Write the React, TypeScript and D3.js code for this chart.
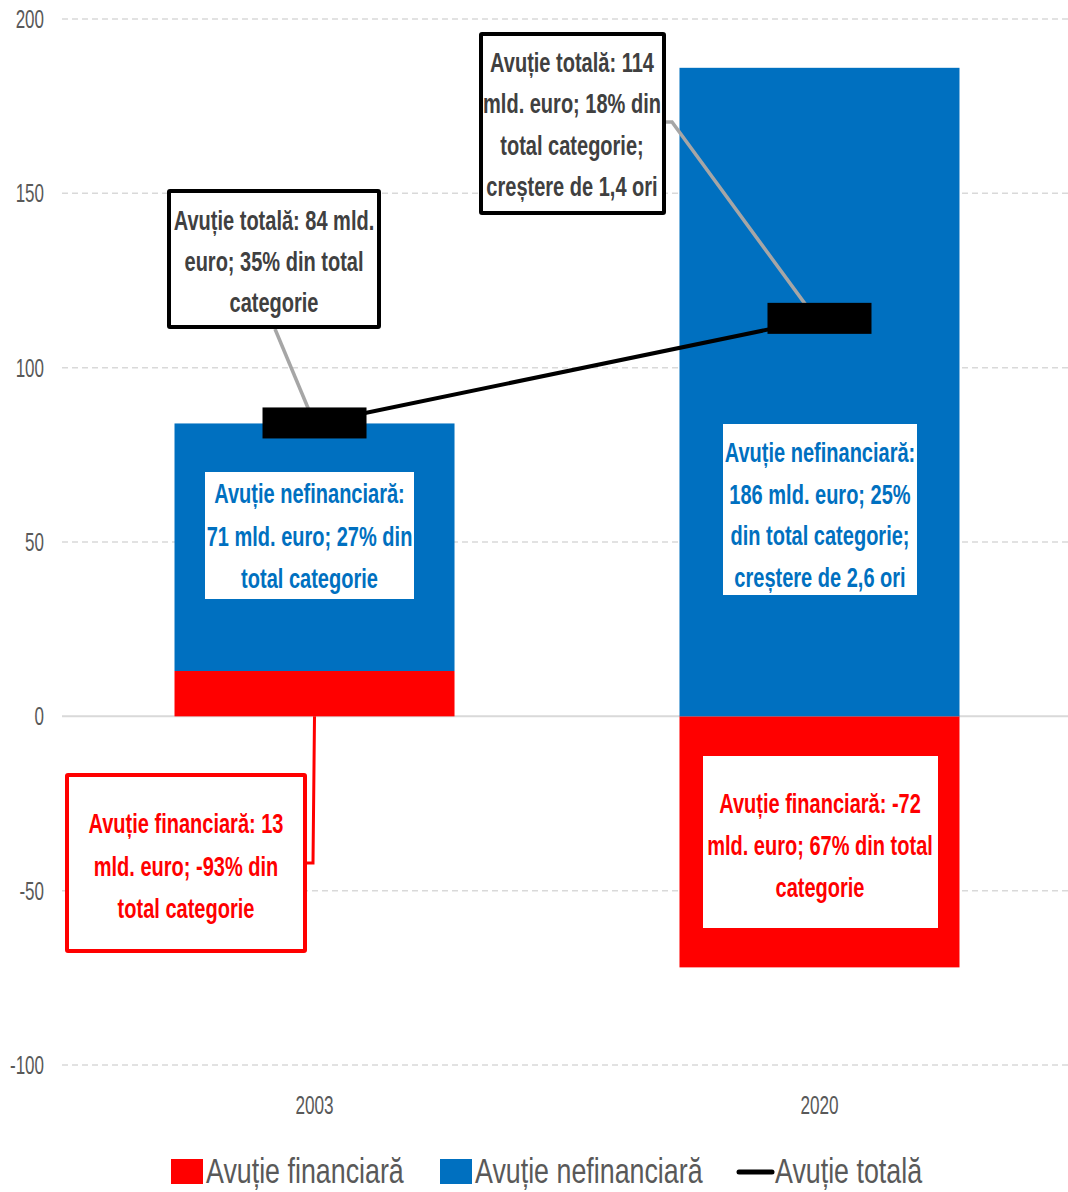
import React from "react";
import * as d3 from "d3";

const categories = ["2003", "2020"];
const financiara = [13, -72];
const nefinanciara = [71, 186];
const totala = [84, 114];
const yTicks = [-100, -50, 0, 50, 100, 150, 200];

const seriesNames = ["Avuție financiară", "Avuție nefinanciară", "Avuție totală"];
const totalLabels = [
  ["Avuție totală: 84 mld.", "euro; 35% din total", "categorie"],
  ["Avuție totală: 114", "mld. euro; 18% din", "total categorie;", "creștere de 1,4 ori"],
];
const nefinLabels = [
  ["Avuție nefinanciară:", "71 mld. euro; 27% din", "total categorie"],
  ["Avuție nefinanciară:", "186 mld. euro; 25%", "din total categorie;", "creștere de 2,6 ori"],
];
const finLabels = [
  ["Avuție financiară: 13", "mld. euro; -93% din", "total categorie"],
  ["Avuție financiară: -72", "mld. euro; 67% din total", "categorie"],
];

const W = 1068;
const H = 1192;
const RED = "#FF0000";
const BLUE = "#0070C0";
const FONT = "'Liberation Sans', Arial, sans-serif";

function T({ x, y, anchor = "middle", size, weight = "normal", fill, sx, children }: any) {
  return (
    <text
      transform={`translate(${x},${y}) scale(${sx},1)`}
      textAnchor={anchor}
      fontSize={size}
      fontWeight={weight}
      fill={fill}
      fontFamily={FONT}
    >
      {children}
    </text>
  );
}

function Lines({ cx, y0, step, lines, fill }: any) {
  return (
    <g>
      {lines.map((l: string, i: number) => (
        <T key={i} x={cx} y={y0 + i * step} size={28} weight="bold" fill={fill} sx={0.715}>
          {l}
        </T>
      ))}
    </g>
  );
}

export default function App() {
  const x = d3
    .scaleBand()
    .domain(categories)
    .range([62, 1072])
    .paddingInner(0.4455)
    .paddingOuter(0.2228);
  const y = d3.scaleLinear().domain([-100, 200]).range([1065, 19]);
  const bw = x.bandwidth();

  const rows = categories.map((c, i) => ({ cat: c, fin: financiara[i], nefin: nefinanciara[i] }));
  const stack = d3
    .stack<any>()
    .keys(["fin", "nefin"])
    .offset(d3.stackOffsetDiverging);
  const stacked = stack(rows);
  const colors = [RED, BLUE];

  const cx = (i: number) => (x(categories[i]) as number) + bw / 2;
  const line = d3
    .line<number>()
    .x((_, i) => cx(i))
    .y((d) => y(d));

  return (
    <svg width={W} height={H} style={{ position: "absolute", left: 0, top: 0, background: "#fff" }}>
      {/* gridlines */}
      {yTicks.map((t) => (
        <g key={t}>
          <line
            x1={62}
            x2={1068}
            y1={y(t)}
            y2={y(t)}
            stroke="#d9d9d9"
            strokeWidth={t === 0 ? 2 : 1.5}
            strokeDasharray={t === 0 ? undefined : "6,4"}
          />
          <T x={44} y={y(t) + 9} anchor="end" size={25} fill="#595959" sx={0.68}>
            {String(t)}
          </T>
        </g>
      ))}

      {/* bars */}
      {stacked.map((s, si) =>
        s.map((d, i) => (
          <rect
            key={si + "-" + i}
            x={x(categories[i])}
            width={bw}
            y={y(Math.max(d[0], d[1]))}
            height={Math.abs(y(d[0]) - y(d[1]))}
            fill={colors[si]}
          />
        ))
      )}

      {/* x labels */}
      {categories.map((c, i) => (
        <T key={c} x={cx(i)} y={1114} size={26} fill="#595959" sx={0.66}>
          {c}
        </T>
      ))}

      {/* leader lines */}
      <polyline points={`275,329 ${cx(0)},${y(totala[0])}`} fill="none" stroke="#a6a6a6" strokeWidth={3.5} />
      <polyline
        points={`666,122 672,122 ${cx(1) - 2},${y(totala[1]) + 2}`}
        fill="none"
        stroke="#a6a6a6"
        strokeWidth={3.5}
      />
      <polyline points={`${cx(0)},${y(0)} 313,863 307,863`} fill="none" stroke={RED} strokeWidth={3} />

      {/* total line */}
      <path d={line(totala) as string} fill="none" stroke="#000" strokeWidth={4} />
      {totala.map((v, i) => (
        <rect key={i} x={cx(i) - 52} y={y(v) - 16} width={104} height={31} fill="#000" />
      ))}

      {/* total label boxes */}
      <rect x={169} y={191} width={210} height={136} fill="#fff" stroke="#000" strokeWidth={4} rx={1} />
      <Lines cx={274} y0={230} step={41} lines={totalLabels[0]} fill="#404040" />
      <rect x={481} y={34} width={183} height={179} fill="#fff" stroke="#000" strokeWidth={4} rx={1} />
      <Lines cx={572} y0={72} step={41.4} lines={totalLabels[1]} fill="#404040" />

      {/* nefinanciara labels */}
      <rect x={205} y={472} width={209} height={127} fill="#fff" />
      <Lines cx={309.5} y0={503} step={42.5} lines={nefinLabels[0]} fill={BLUE} />
      <rect x={723} y={424} width={194} height={171} fill="#fff" />
      <Lines cx={820} y0={462} step={41.5} lines={nefinLabels[1]} fill={BLUE} />

      {/* financiara labels */}
      <rect x={67} y={775} width={238} height={176} fill="#fff" stroke={RED} strokeWidth={4} rx={1} />
      <Lines cx={186} y0={833} step={42.5} lines={finLabels[0]} fill={RED} />
      <rect x={703} y={756} width={235} height={172} fill="#fff" />
      <Lines cx={820} y0={813} step={42} lines={finLabels[1]} fill={RED} />

      {/* legend */}
      <rect x={171} y={1159} width={32} height={25} fill={RED} />
      <T x={206} y={1183} anchor="start" size={36} fill="#595959" sx={0.745}>
        {seriesNames[0]}
      </T>
      <rect x={440} y={1159} width={32} height={25} fill={BLUE} />
      <T x={475} y={1183} anchor="start" size={36} fill="#595959" sx={0.745}>
        {seriesNames[1]}
      </T>
      <line x1={739} x2={772} y1={1172} y2={1172} stroke="#000" strokeWidth={5} strokeLinecap="round" />
      <T x={775} y={1183} anchor="start" size={36} fill="#595959" sx={0.745}>
        {seriesNames[2]}
      </T>
    </svg>
  );
}
